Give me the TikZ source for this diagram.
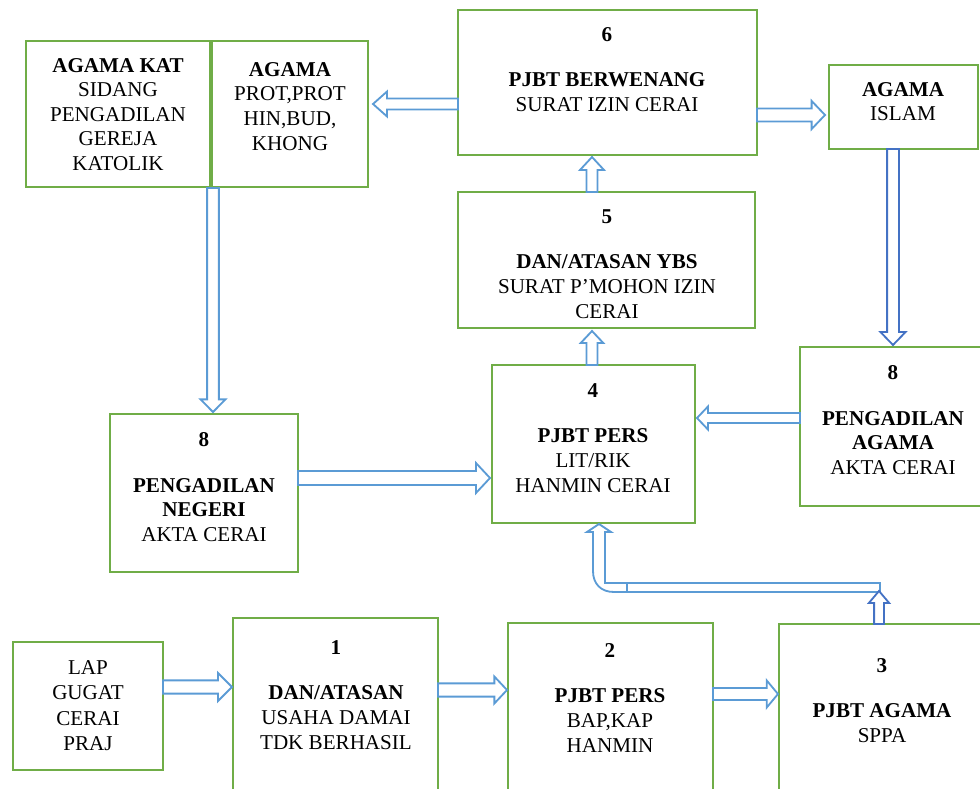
\documentclass[tikz,border=0pt]{standalone}
\usepackage{fontspec}
\setmainfont{Liberation Serif}
\usetikzlibrary{calc,fit}

\definecolor{boxgreen}{RGB}{112,173,71}
\definecolor{arrowblue}{RGB}{91,155,213}
\definecolor{darkblue}{RGB}{68,114,196}

\tikzset{
  box/.style={draw=boxgreen, line width=1.8pt, inner sep=0pt, outer sep=0pt},
  txt/.style={anchor=north, align=center, inner sep=0pt, font=\fontsize{15}{17.5}\selectfont},
  blkline/.style={draw=arrowblue, line width=1.3pt, fill=white, line join=miter},
  % hollow block arrow: half shaft width, half head width, head length
  blk/.style n args={3}{to path={let \p1=(\tikztostart), \p2=(\tikztotarget) in
    ($(\p1)!#1!90:(\p2)$) -- ($(\p2)!#3!(\p1)!#1!-90:(\p1)$) -- ($(\p2)!#3!(\p1)!#2!-90:(\p1)$)
    -- (\p2) -- ($(\p2)!#3!(\p1)!#2!90:(\p1)$) -- ($(\p2)!#3!(\p1)!#1!90:(\p1)$)
    -- ($(\p1)!#1!-90:(\p2)$) -- cycle}}
}

\begin{document}
\begin{tikzpicture}[x=0.025cm, y=-0.025cm]
    \useasboundingbox (0,0) rectangle (980,789);
    \clip (0,0) rectangle (980,789);

    % boxes
    \node[box, fit={(26,41) (210,187)}] (kat) {};
    \node[box, fit={(212,41) (368,187)}] (agama) {};
    \node[box, fit={(458,10) (757,155)}] (b6) {};
    \node[box, fit={(829,65) (978,149)}] (islam) {};
    \node[box, fit={(458,192) (755,328)}] (b5) {};
    \node[box, fit={(492,365) (695,523)}] (b4) {};
    \node[box, fit={(800,347) (990,506)}] (b8a) {};
    \node[box, fit={(110,414) (298,572)}] (b8n) {};
    \node[box, fit={(13,642) (163,770)}] (lap) {};
    \node[box, fit={(233,618) (438,800)}] (b1) {};
    \node[box, fit={(508,623) (713,800)}] (b2) {};
    \node[box, fit={(779,624) (985,800)}] (b3) {};

    % texts
    \node[txt, font=\fontsize{15}{17.4}\selectfont] (tkat) at (118,58) {\textbf{AGAMA KAT}\\SIDANG\\PENGADILAN\\GEREJA\\KATOLIK};
    \node[txt] (tagama) at (290,62) {\textbf{AGAMA}\\PROT,PROT\\HIN,BUD,\\KHONG};
    \node[txt] (t6) at (607,27) {\textbf{6}\\[15pt]\textbf{PJBT BERWENANG}\\SURAT IZIN CERAI};
    \node[txt] (tislam) at (903,82) {\textbf{AGAMA}\\ISLAM};
    \node[txt] (t5) at (607,209) {\textbf{5}\\[15pt]\textbf{DAN/ATASAN YBS}\\SURAT P’MOHON IZIN\\CERAI};
    \node[txt] (t4) at (593,383) {\textbf{4}\\[15pt]\textbf{PJBT PERS}\\LIT/RIK\\HANMIN CERAI};
    \node[txt] (t8a) at (893,365) {\textbf{8}\\[15pt]\textbf{PENGADILAN}\\\textbf{AGAMA}\\AKTA CERAI};
    \node[txt] (t8n) at (204,432) {\textbf{8}\\[15pt]\textbf{PENGADILAN}\\\textbf{NEGERI}\\AKTA CERAI};
    \node[txt, font=\fontsize{15}{18.2}\selectfont] (tlap) at (88,660) {LAP\\GUGAT\\CERAI\\PRAJ};
    \node[txt] (t1) at (336,640) {\textbf{1}\\[15pt]\textbf{DAN/ATASAN}\\USAHA DAMAI\\TDK BERHASIL};
    \node[txt] (t2) at (610,643) {\textbf{2}\\[15pt]\textbf{PJBT PERS}\\BAP,KAP\\HANMIN};
    \node[txt] (t3) at (882,658) {\textbf{3}\\[15pt]\textbf{PJBT AGAMA}\\SPPA};

    % arrows
    \draw[blkline] ($(b6.west)+(0,21.5)$) to[blk={3.9pt}{8.9pt}{10pt}] ($(agama.east)+(5,-10)$);
    \draw[blkline] ($(b6.east)+(0,32.5)$) to[blk={4.6pt}{10pt}{9.5pt}] ($(islam.west)+(-4,8)$);
    \draw[blkline, draw=darkblue] ($(islam.south)+(-10.5,0)$) to[blk={4.2pt}{8.9pt}{9.2pt}] ($(b8a.north)+(-2,-2)$);
    \draw[blkline] ($(kat.south east)+(3,1)$) to[blk={4.2pt}{8.9pt}{9pt}] ($(b8n.north)+(9,-2)$);
    \draw[blkline] ($(b5.north)+(-14.5,0)$) to[blk={3.9pt}{8.5pt}{9.2pt}] ($(b6.south)+(-15.5,2)$);
    \draw[blkline] ($(b4.north)+(-1.5,0)$) to[blk={3.9pt}{8pt}{8.5pt}] ($(b5.south)+(-14.5,3)$);
    \draw[blkline] ($(b8a.west)+(0,-8.5)$) to[blk={3.5pt}{8.2pt}{7.8pt}] ($(b4.east)+(2,-26)$);
    \draw[blkline] ($(b8n.east)+(0,-15)$) to[blk={5pt}{10.7pt}{10pt}] ($(b4.west)+(-2,34)$);
    \draw[blkline] ($(lap.east)+(0,-19)$) to[blk={4.7pt}{10pt}{10pt}] ($(b1.west)+(-1,-22)$);
    \draw[blkline] ($(b1.east)+(0,-19)$) to[blk={4.7pt}{9.6pt}{9pt}] ($(b2.west)+(-1,-21.5)$);
    \draw[blkline] ($(b2.east)+(0,-17.5)$) to[blk={4.3pt}{9.6pt}{8pt}] ($(b3.west)+(-1,-18)$);

    % bent arrow from 3 up to 4
    \draw[blkline] (627,583) -- (605,583) -- (605,532) -- (611,532) -- (599,524) -- (587,532) -- (593,532)
        -- (593,571) .. controls (593,584) and (601,592) .. (614,592) -- (627,592) -- cycle;
    \draw[blkline] (627,583) rectangle (880,592);
    \draw[blkline, draw=darkblue] ($(b3.north)+(-3,0)$) to[blk={3.5pt}{7.2pt}{8.5pt}] ($(b3.north)+(-3,-33)$);
\end{tikzpicture}
\end{document}
